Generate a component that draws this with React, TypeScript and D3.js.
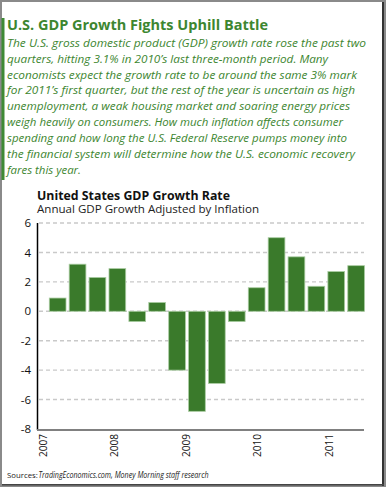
import React from "react";
import * as d3 from "d3";

const quarters = [
  "2007Q1", "2007Q2", "2007Q3", "2007Q4",
  "2008Q1", "2008Q2", "2008Q3", "2008Q4",
  "2009Q1", "2009Q2", "2009Q3", "2009Q4",
  "2010Q1", "2010Q2", "2010Q3", "2010Q4",
];
const growth = [0.9, 3.2, 2.3, 2.9, -0.7, 0.6, -4.0, -6.8, -4.9, -0.7, 1.6, 5.0, 3.7, 1.7, 2.7, 3.1];
const yTicks = [6, 4, 2, 0, -2, -4, -6, -8];
const years = [2007, 2008, 2009, 2010, 2011];

const headline = "U.S. GDP Growth Fights Uphill Battle";
const paragraph = [
  "The U.S. gross domestic product (GDP) growth rate rose the past two",
  "quarters, hitting 3.1% in 2010\u2019s last three-month period. Many",
  "economists expect the growth rate to be around the same 3% mark",
  "for 2011\u2019s first quarter, but the rest of the year is uncertain as high",
  "unemployment, a weak housing market and soaring energy prices",
  "weigh heavily on consumers. How much inflation affects consumer",
  "spending and how long the U.S. Federal Reserve pumps money into",
  "the financial system will determine how the U.S. economic recovery",
  "fares this year.",
];
const paragraphWidths = [359, 321, 350, 348, 343, 336, 340, 348, 74];
const chartTitle = "United States GDP Growth Rate";
const chartSubtitle = "Annual GDP Growth Adjusted by Inflation";
const sourceLabel = "Sources:";
const sourceText = "TradingEconomics.com, Money Morning staff research";

const W = 386;
const H = 487;
const GREEN_TEXT = "#3d8630";
const BAR = "#3a7a2b";
const FONT = "'Open Sans', 'Noto Sans', sans-serif";

export default function App() {
  const y = d3.scaleLinear().domain([-8, 6]).range([429, 223]);
  const x = d3.scaleBand<string>().domain(quarters).range([47.7, 366.1]).paddingInner(0.16).paddingOuter(0.08);
  const yr = d3.scaleLinear().domain([2007, 2011]).range([43.3, 329.5]);

  return (
    <svg
      width={W}
      height={H}
      style={{ position: "fixed", left: 0, top: 0, display: "block" }}
      fontFamily={FONT}
    >
      {/* frame */}
      <rect x={0} y={0} width={W} height={H} fill="#8a8a8a" />
      <rect x={2} y={2} width={380} height={482} fill="#ffffff" />
      <rect x={382} y={2} width={2} height={484} fill="#333" />
      <rect x={2} y={484} width={382} height={1.5} fill="#444" />
      <rect x={1.5} y={18} width={3} height={162} fill="#3f8a35" />

      {/* header */}
      <text x={7} y={29.5} fontSize={13.5} fontWeight={700} fill={GREEN_TEXT} textLength={261} lengthAdjust="spacingAndGlyphs">
        {headline}
      </text>
      {paragraph.map((line, i) => (
        <text
          key={i}
          x={7}
          y={46.7 + i * 15.9}
          fontSize={11.3}
          fontStyle="italic"
          fill={GREEN_TEXT}
          textLength={paragraphWidths[i]}
          lengthAdjust="spacingAndGlyphs"
        >
          {line}
        </text>
      ))}

      {/* chart titles */}
      <text x={37} y={200.3} fontSize={11.6} fontWeight={700} fill="#111" textLength={193} lengthAdjust="spacingAndGlyphs">
        {chartTitle}
      </text>
      <text x={37} y={213.2} fontSize={10.6} fill="#222" textLength={222} lengthAdjust="spacingAndGlyphs">
        {chartSubtitle}
      </text>

      {/* grid */}
      {yTicks.filter((t) => t !== -8).map((t) => (
        <line
          key={"g" + t}
          x1={39}
          x2={364}
          y1={y(t)}
          y2={y(t)}
          stroke="#c9c9c9"
          strokeWidth={1.4}
          strokeDasharray="4,3"
        />
      ))}

      {/* bars */}
      {growth.map((v, i) => {
        const top = y(Math.max(0, v));
        const h = Math.abs(y(v) - y(0));
        return (
          <rect
            key={quarters[i]}
            x={x(quarters[i])}
            y={top}
            width={x.bandwidth()}
            height={h}
            fill={BAR}
            stroke="#a9cca1"
            strokeWidth={0.8}
          />
        );
      })}

      {/* axes */}
      <line x1={37.5} x2={37.5} y1={223} y2={430} stroke="#000" strokeWidth={1.5} />
      <line x1={37} x2={364} y1={430} y2={430} stroke="#808080" strokeWidth={2} />
      {yTicks.map((t) => (
        <text key={"t" + t} x={31} y={y(t)} dy="0.36em" fontSize={11.5} textAnchor="end" fill="#111">
          {String(t)}
        </text>
      ))}
      {years.map((yy) => (
        <text
          key={yy}
          transform={`translate(${yr(yy) + 3.5},${434}) rotate(-90)`}
          fontSize={10}
          textAnchor="end"
          fill="#111"
        >
          {String(yy)}
        </text>
      ))}

      {/* source */}
      <text x={7} y={478} fontSize={7.8} fill="#222">
        {sourceLabel}
      </text>
      <text x={38.5} y={478} fontSize={8.5} fontStyle="italic" fill="#222" textLength={170} lengthAdjust="spacingAndGlyphs">
        {sourceText}
      </text>
    </svg>
  );
}
